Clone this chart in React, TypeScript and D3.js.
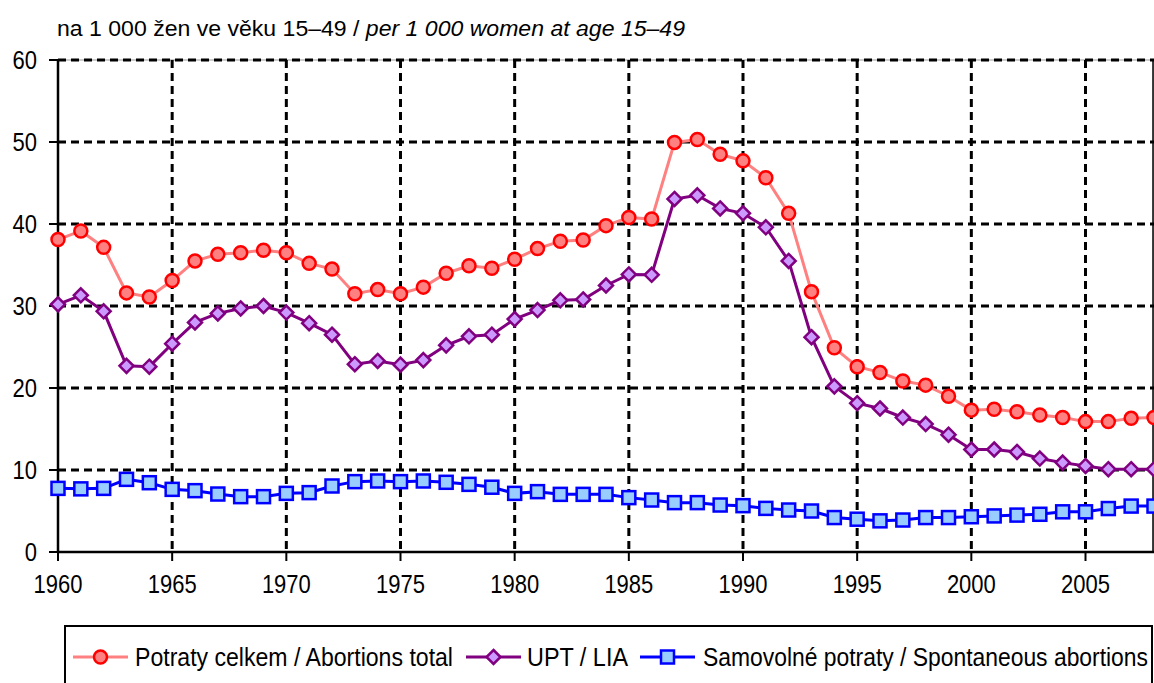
import React from "react";
import * as d3 from "d3";

const years: number[] = d3.range(1960, 2009);

const totalAbortions: number[] = [
  38.1, 39.15, 37.15, 31.6, 31.1, 33.1, 35.5, 36.3, 36.5, 36.8,
  36.5, 35.2, 34.5, 31.5, 32.0, 31.5, 32.3, 34.0, 34.9, 34.6,
  35.7, 37.0, 37.9, 38.05, 39.8, 40.8, 40.6, 49.95, 50.3, 48.5,
  47.7, 45.65, 41.3, 31.75, 24.9, 22.6, 21.9, 20.85, 20.35, 19.0,
  17.3, 17.4, 17.1, 16.7, 16.4, 15.9, 15.9, 16.3, 16.4,
];

const lia: number[] = [
  30.2, 31.3, 29.35, 22.7, 22.6, 25.4, 28.0, 29.1, 29.7, 30.0,
  29.2, 27.9, 26.5, 22.9, 23.3, 22.85, 23.4, 25.2, 26.3, 26.5,
  28.4, 29.5, 30.7, 30.8, 32.5, 33.85, 33.8, 43.05, 43.5, 41.9,
  41.3, 39.6, 35.5, 26.2, 20.2, 18.15, 17.5, 16.4, 15.6, 14.3,
  12.5, 12.5, 12.2, 11.4, 10.9, 10.5, 10.1, 10.1, 10.1,
];

const spontaneous: number[] = [
  7.76, 7.7, 7.76, 8.86, 8.45, 7.64, 7.48, 7.07, 6.75, 6.75,
  7.15, 7.24, 8.05, 8.58, 8.66, 8.58, 8.66, 8.5, 8.25, 7.9,
  7.15, 7.36, 7.03, 7.03, 7.03, 6.63, 6.34, 6.02, 6.02, 5.73,
  5.65, 5.32, 5.12, 5.0, 4.2, 4.0, 3.8, 3.9, 4.2, 4.2,
  4.3, 4.4, 4.5, 4.6, 4.9, 4.9, 5.3, 5.6, 5.6,
];

const yTicks: number[] = [0, 10, 20, 30, 40, 50, 60];
const xTicks: number[] = [1960, 1965, 1970, 1975, 1980, 1985, 1990, 1995, 2000, 2005];

const titleMain = "na 1 000 žen ve věku 15–49 / ";
const titleItalic = "per 1 000 women at age 15–49";
const legendLabels: string[] = [
  "Potraty celkem / Abortions total",
  "UPT / LIA",
  "Samovolné potraty / Spontaneous abortions",
];

const W = 1154;
const H = 683;
const left = 58;
const right = 1154;
const top = 60;
const bottom = 552;
const FONT = "'Liberation Sans', Arial, sans-serif";
const NARROW = 0.88;

export default function App() {
  const x = d3.scaleLinear().domain([1960, 2008]).range([left, right]);
  const y = d3.scaleLinear().domain([0, 60]).range([bottom, top]);
  const line = (vals: number[]) =>
    d3.line<number>().x((_, i) => x(years[i])).y((v) => y(v))(vals) || "";

  const diamond = (cx: number, cy: number, r: number) =>
    `M${cx},${cy - r}L${cx + r},${cy}L${cx},${cy + r}L${cx - r},${cy}Z`;

  const redMarker = (cx: number, cy: number, k: string) => (
    <circle key={k} cx={cx} cy={cy} r={6.5} fill="#FF8080" stroke="#FF0000" strokeWidth={2.5} />
  );
  const purpleMarker = (cx: number, cy: number, k: string) => (
    <path key={k} d={diamond(cx, cy, 7)} fill="#CC99FF" stroke="#800080" strokeWidth={2.5} />
  );
  const blueMarker = (cx: number, cy: number, k: string) => (
    <rect key={k} x={cx - 6.5} y={cy - 6.5} width={13} height={13} fill="#99CCFF" stroke="#0000FF" strokeWidth={2.5} />
  );

  const legendY = 657;
  const legendItems = [
    { x0: 73, color: "#FF8080", marker: redMarker, label: legendLabels[0], tx: 135, tw: 318 },
    { x0: 466, color: "#800080", marker: purpleMarker, label: legendLabels[1], tx: 527, tw: 101 },
    { x0: 640, color: "#0000FF", marker: blueMarker, label: legendLabels[2], tx: 703, tw: 445 },
  ];

  return (
    <svg
      width={W}
      height={H}
      style={{ position: "absolute", left: 0, top: 0, background: "#fff" }}
      fontFamily={FONT}
    >
      <text x={57} y={36} fontSize={22} fill="#000" textLength={628} lengthAdjust="spacingAndGlyphs">
        {titleMain}
        <tspan fontStyle="italic">{titleItalic}</tspan>
      </text>

      {/* plot border */}
      <rect x={left} y={top} width={right - left} height={bottom - top} fill="none" stroke="#999" strokeWidth={1} />
      <line x1={right - 1} x2={right - 1} y1={top} y2={bottom} stroke="#000" strokeWidth={1.5} />

      {/* gridlines */}
      {yTicks.filter((t) => t > 0).map((t) => (
        <line key={"gy" + t} x1={left} x2={right} y1={y(t)} y2={y(t)} stroke="#000" strokeWidth={3} strokeDasharray="8,5" />
      ))}
      {xTicks.filter((t) => t > 1960).map((t) => (
        <line key={"gx" + t} x1={x(t)} x2={x(t)} y1={top} y2={bottom} stroke="#000" strokeWidth={3} strokeDasharray="8,5" />
      ))}

      {/* axes */}
      <line x1={left} x2={left} y1={top} y2={bottom} stroke="#000" strokeWidth={2.5} />
      <line x1={left} x2={right} y1={bottom} y2={bottom} stroke="#000" strokeWidth={2.5} />
      {yTicks.map((t) => (
        <g key={"yt" + t}>
          <line x1={left - 9} x2={left} y1={y(t)} y2={y(t)} stroke="#000" strokeWidth={2} />
          <g transform={`translate(37,${y(t) + 9}) scale(${NARROW},1)`}>
            <text x={0} y={0} textAnchor="end" fontSize={25}>{t}</text>
          </g>
        </g>
      ))}
      {xTicks.map((t) => (
        <g key={"xt" + t}>
          <line x1={x(t)} x2={x(t)} y1={bottom} y2={bottom + 9} stroke="#000" strokeWidth={2} />
          <g transform={`translate(${x(t)},593) scale(${NARROW},1)`}>
            <text x={0} y={0} textAnchor="middle" fontSize={25}>{t}</text>
          </g>
        </g>
      ))}

      {/* series */}
      <path d={line(spontaneous)} fill="none" stroke="#0000FF" strokeWidth={3} />
      <path d={line(lia)} fill="none" stroke="#800080" strokeWidth={3} />
      <path d={line(totalAbortions)} fill="none" stroke="#FF8080" strokeWidth={3} />
      {spontaneous.map((v, i) => blueMarker(x(years[i]), y(v), "b" + i))}
      {lia.map((v, i) => purpleMarker(x(years[i]), y(v), "p" + i))}
      {totalAbortions.map((v, i) => redMarker(x(years[i]), y(v), "r" + i))}

      {/* legend */}
      <rect x={65} y={626} width={1087} height={80} fill="#fff" stroke="#000" strokeWidth={2} />
      {legendItems.map((it, i) => (
        <g key={"lg" + i}>
          <line x1={it.x0} x2={it.x0 + 55} y1={legendY} y2={legendY} stroke={it.color} strokeWidth={3} />
          {it.marker(it.x0 + 27.5, legendY, "lm" + i)}
          <text x={it.tx} y={legendY + 9} fontSize={25} textLength={it.tw} lengthAdjust="spacingAndGlyphs">{it.label}</text>
        </g>
      ))}
    </svg>
  );
}
